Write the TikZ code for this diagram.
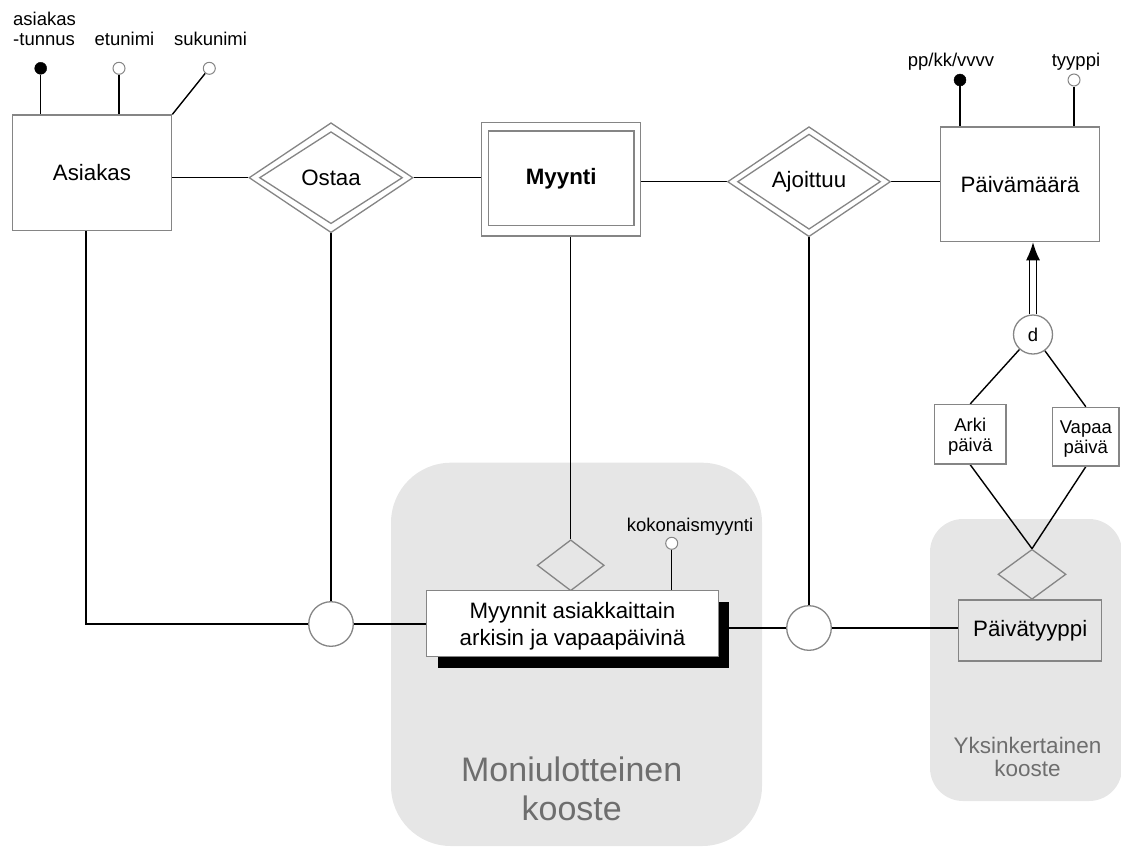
\documentclass[tikz,border=0pt]{standalone}
\usepackage{fontspec}
\setmainfont{Liberation Sans}
\usetikzlibrary{shapes.geometric,arrows.meta,shadows}
\definecolor{boxgray}{HTML}{858585}
\definecolor{areagray}{HTML}{E6E6E6}
\definecolor{areatext}{HTML}{6E6E6E}
\newcommand\fsbig{\fontsize{22.3}{26.5}\selectfont}
\newcommand\fssmall{\fontsize{18.5}{20}\selectfont}
\pgfdeclarelayer{back}
\pgfdeclarelayer{mid}
\pgfsetlayers{back,mid,main}

\begin{document}
\begin{tikzpicture}[x=1pt,y=-1pt,
  ent/.style={draw=boxgray,line width=1.3pt,fill=white,inner sep=0pt,font=\fsbig,align=center},
  rel/.style={diamond,draw=boxgray,line width=1.3pt,fill=white,inner sep=0pt,font=\fsbig},
  keyattr/.style={circle,draw=black,fill=black,minimum size=12pt,inner sep=0pt},
  attr/.style={circle,draw=boxgray,line width=1pt,fill=white,minimum size=12pt,inner sep=0pt},
  junction/.style={circle,draw=boxgray,line width=1.3pt,fill=white,minimum size=44.6pt,inner sep=0pt},
  lbl/.style={inner sep=0pt,font=\fssmall},
  conn/.style={draw=black,line width=1.4pt},
  arealbl/.style={text=areatext,inner sep=0pt,align=center}]

\useasboundingbox (0,0) rectangle (1121,852);

% aggregate areas
\begin{pgfonlayer}{back}
  \fill[areagray, rounded corners=60pt] (391,462.7) rectangle (762,846);
  \fill[areagray, rounded corners=33pt] (930,519) rectangle (1122,801);
\end{pgfonlayer}
\node[arealbl,font=\fontsize{34}{38.3}\selectfont,anchor=base] (multi) at (571.7,820) {Moniulotteinen\\kooste};
\node[arealbl,font=\fontsize{22.5}{23.7}\selectfont,anchor=base] (simple) at (1027.5,776.7) {Yksinkertainen\\kooste};

% entities and relationships
\node[ent,minimum width=159.4pt,minimum height=115.7pt] (asiakas) at (92,172.9) {Asiakas};

\node[rel,minimum width=164pt,minimum height=110pt] (ostaa) at (331,177.7) {};
\node[rel,minimum width=143pt,minimum height=92pt] (ostaain) at (ostaa.center) {Ostaa};

\node[ent,minimum width=159.4pt,minimum height=113.7pt] (myynti) at (561,179.2) {};
\node[ent,minimum width=145.7pt,minimum height=94.7pt,font=\fsbig\bfseries] (myyntiin) at (561.2,178.4) {Myynti};

\node[rel,minimum width=163pt,minimum height=110pt] (ajoittuu) at (809,181.7) {};
\node[rel,minimum width=143pt,minimum height=92pt] (ajoittuuin) at (ajoittuu.center) {Ajoittuu};

\node[ent,minimum width=158.6pt,minimum height=114.7pt] (pvm) at (1020,184.3) {Päivämäärä};

% attributes
\node[keyattr] (tunnus) at (40.7,68.3) {};
\node[attr] (etunimi) at (119,68.3) {};
\node[attr] (sukunimi) at (209.3,68.3) {};
\node[lbl,anchor=base west,align=left] (tunnuslbl) at (13,45) {asiakas\\-tunnus};
\node[lbl,anchor=base] (etunimilbl) at (124.5,45) {etunimi};
\node[lbl,anchor=base] (sukunimilbl) at (210.5,45) {sukunimi};

\node[keyattr] (ppkk) at (960,80) {};
\node[attr] (tyyppi) at (1074,80) {};
\node[lbl,anchor=base] (ppkklbl) at (951,66.7) {pp/kk/vvvv};
\node[lbl,anchor=base] (tyyppilbl) at (1076,66.7) {tyyppi};

% specialisation of the date
\node[circle,draw=boxgray,line width=1.3pt,fill=white,minimum size=39pt,inner sep=0pt,font=\fssmall] (d) at (1033,334.5) {d};
\node[ent,font=\fssmall,text depth=0pt,minimum width=71.7pt,minimum height=59.5pt] (arki) at (970.2,434.3) {Arki\\päivä};
\node[ent,font=\fssmall,text depth=0pt,minimum width=66.3pt,minimum height=58.7pt] (vapaa) at (1085.8,436.7) {Vapaa\\päivä};

\node[rel,fill=none,minimum width=68pt,minimum height=50pt] (ptrel) at (1032,574.3) {};
\node[ent,fill=none,minimum width=143pt,minimum height=61pt] (ptyyppi) at (1030.2,630.5) {Päivätyyppi};

% aggregate fact
\node[rel,fill=none,minimum width=67pt,minimum height=51pt] (mrel) at (570.7,565.3) {};
\node[ent,text depth=0pt,minimum width=291.6pt,minimum height=66pt,
  drop shadow={shadow xshift=11pt,shadow yshift=-11pt,fill=black,opacity=1}] (myynnit) at (572.5,623.7)
  {Myynnit asiakkaittain\\arkisin ja vapaapäivinä};
\node[attr] (kok) at (671.7,543.3) {};
\node[lbl,anchor=base] (koklbl) at (690,531.7) {kokonaismyynti};

\node[junction] (c1) at (331,624) {};
\node[junction] (c2) at (809,628) {};
\coordinate (bend) at (86,624);

% connectors
\begin{pgfonlayer}{mid}
  \draw[conn] (tunnus) -- (tunnus |- asiakas.north);
  \draw[conn] (etunimi) -- (etunimi |- asiakas.north);
  \draw[conn] (sukunimi) -- (asiakas.north east);
  \draw[conn] (ppkk) -- (ppkk |- pvm.north);
  \draw[conn] (tyyppi) -- (tyyppi |- pvm.north);

  \draw[conn] (ostaa.west -| asiakas.east) -- (ostaa.west);
  \draw[conn] (ostaa.east) -- (ostaa.east -| myynti.west);
  \draw[conn] (ajoittuu.west -| myynti.east) -- (ajoittuu.west);
  \draw[conn] (ajoittuu.east) -- (ajoittuu.east -| pvm.west);

  \draw[line width=1.2pt,double distance=5.5pt,-{Latex[length=18pt,width=14pt]}] (d.north) -- (d.north |- pvm.south);
  \draw[conn] (d) -- (arki.north);
  \draw[conn] (d) -- (vapaa.north);
  \draw[conn] (arki.south) -- (ptrel.north);
  \draw[conn] (vapaa.south) -- (ptrel.north);

  \draw[conn] (bend |- asiakas.south) -- (bend) -- (c1.west);
  \draw[conn] (c1) -- (ostaa.south);
  \draw[conn] (c1.east) -- (c1.east -| myynnit.west);
  \draw[conn] (mrel.north) -- (mrel.north |- myynti.south);
  \draw[conn] (kok) -- (kok |- myynnit.north);
  \draw[conn] (c2) -- (ajoittuu.south);
  \draw[conn] (c2.west) -- (c2.west -| myynnit.east);
  \draw[conn] (c2.east) -- (ptyyppi.west |- c2.east);
\end{pgfonlayer}
\end{tikzpicture}
\end{document}
